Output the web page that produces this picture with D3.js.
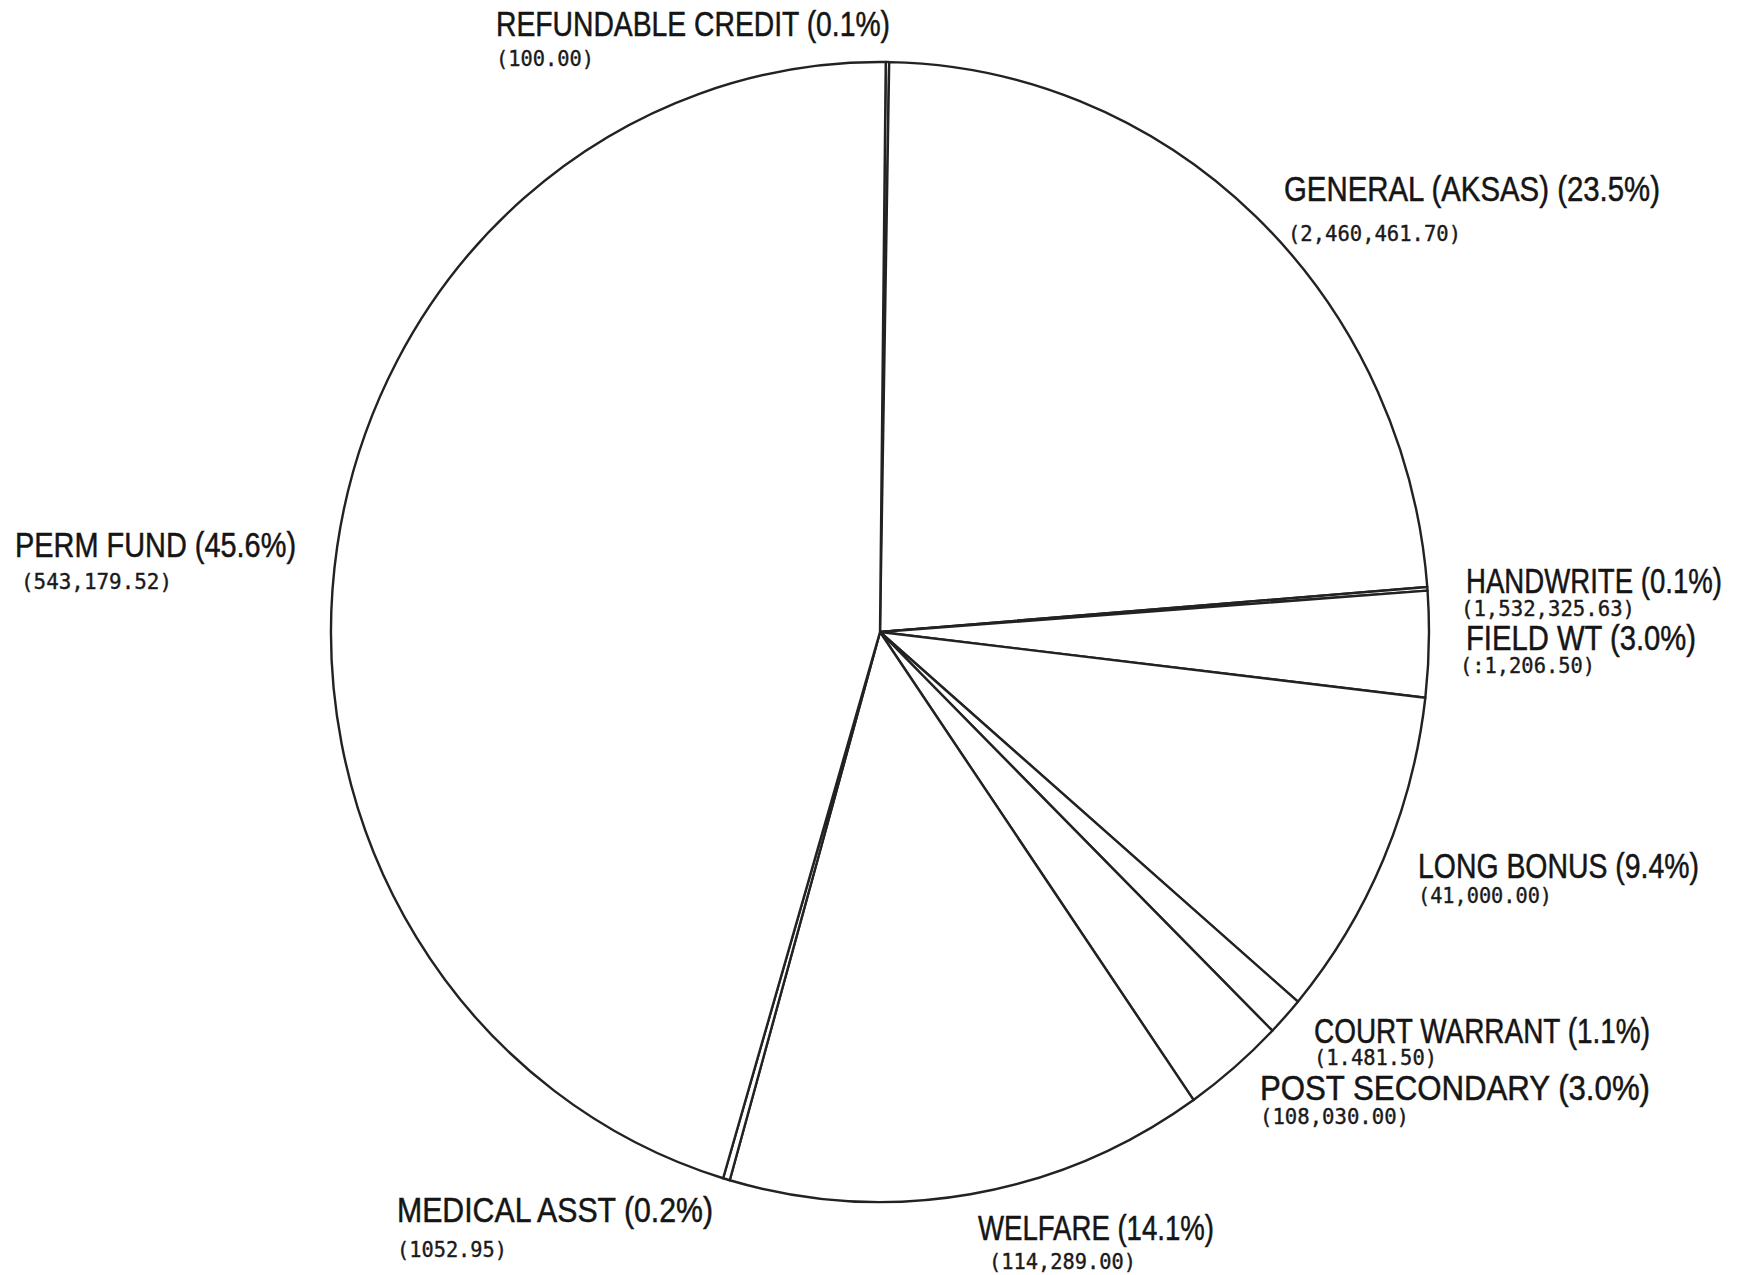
<!DOCTYPE html>
<html>
<head>
<meta charset="utf-8">
<script src="https://cdn.jsdelivr.net/npm/d3@7"></script>
<style>
  html, body { margin: 0; padding: 0; background: #ffffff; }
  svg { display: block; }
</style>
</head>
<body>
<svg id="chart" width="1746" height="1275"></svg>
<script>
// ---- data ----
const categories = [
  "REFUNDABLE CREDIT", "GENERAL (AKSAS)", "HANDWRITE", "FIELD WT", "LONG BONUS",
  "COURT WARRANT", "POST SECONDARY", "WELFARE", "MEDICAL ASST", "PERM FUND"
];
const percents = [0.1, 23.5, 0.1, 3.0, 9.4, 1.1, 3.0, 14.1, 0.2, 45.6];
const amountLabels = [
  "(100.00)", "(2,460,461.70)", "(1,532,325.63)", "(:1,206.50)", "(41,000.00)",
  "(1.481.50)", "(108,030.00)", "(114,289.00)", "(1052.95)", "(543,179.52)"
];

// ---- layout (label placement, not data) ----
const labelLayout = [
  { x: 496,  y: 36,   w: 394, vx: 496,  vy: 66,   vw: 98 },
  { x: 1284, y: 201,  w: 376, vx: 1288, vy: 241,  vw: 173 },
  { x: 1466, y: 593,  w: 256, vx: 1461, vy: 616,  vw: 174 },
  { x: 1466, y: 650,  w: 230, vx: 1460, vy: 673,  vw: 135 },
  { x: 1418, y: 878,  w: 281, vx: 1418, vy: 903,  vw: 134 },
  { x: 1314, y: 1043, w: 336, vx: 1314, vy: 1065, vw: 123 },
  { x: 1260, y: 1100, w: 390, vx: 1260, vy: 1124, vw: 149 },
  { x: 978,  y: 1240, w: 236, vx: 989,  vy: 1269, vw: 147 },
  { x: 397,  y: 1222, w: 316, vx: 397,  vy: 1257, vw: 110 },
  { x: 15,   y: 557,  w: 281, vx: 21,   vy: 589,  vw: 151 }
];

const svg = d3.select("#chart");
const cx = 880, cy = 632, ry = 570, rx = 549;
const offset = 0.6 * Math.PI / 180;

const pie = d3.pie().sort(null).value(d => d)
  .startAngle(offset).endAngle(offset + 2 * Math.PI);
const arc = d3.arc().innerRadius(0).outerRadius(ry);

const g = svg.append("g")
  .attr("transform", `translate(${cx},${cy}) scale(${rx / ry},1)`);

g.selectAll("path.slice")
  .data(pie(percents))
  .join("path")
  .attr("class", "slice")
  .attr("d", arc)
  .attr("fill", "#ffffff")
  .attr("stroke", "#222")
  .attr("stroke-width", 2.4)
  .attr("stroke-linejoin", "round")
  .attr("vector-effect", "non-scaling-stroke");

// labels
const labels = svg.append("g");
categories.forEach((c, i) => {
  const L = labelLayout[i];
  labels.append("text")
    .attr("x", L.x).attr("y", L.y)
    .attr("font-family", "'Liberation Sans', Arial, sans-serif")
    .attr("font-size", 35)
    .attr("fill", "#151515")
    .attr("stroke", "#151515")
    .attr("stroke-width", 0.5)
    .attr("textLength", L.w)
    .attr("lengthAdjust", "spacingAndGlyphs")
    .text(`${c} (${percents[i].toFixed(1)}%)`);
  labels.append("text")
    .attr("x", L.vx).attr("y", L.vy)
    .attr("font-family", "'DejaVu Sans Mono', monospace")
    .attr("font-size", 22)
    .attr("fill", "#1a1a1a")
    .attr("stroke", "#1a1a1a")
    .attr("stroke-width", 0.4)
    .attr("textLength", L.vw)
    .attr("lengthAdjust", "spacingAndGlyphs")
    .text(amountLabels[i]);
});
</script>
</body>
</html>
